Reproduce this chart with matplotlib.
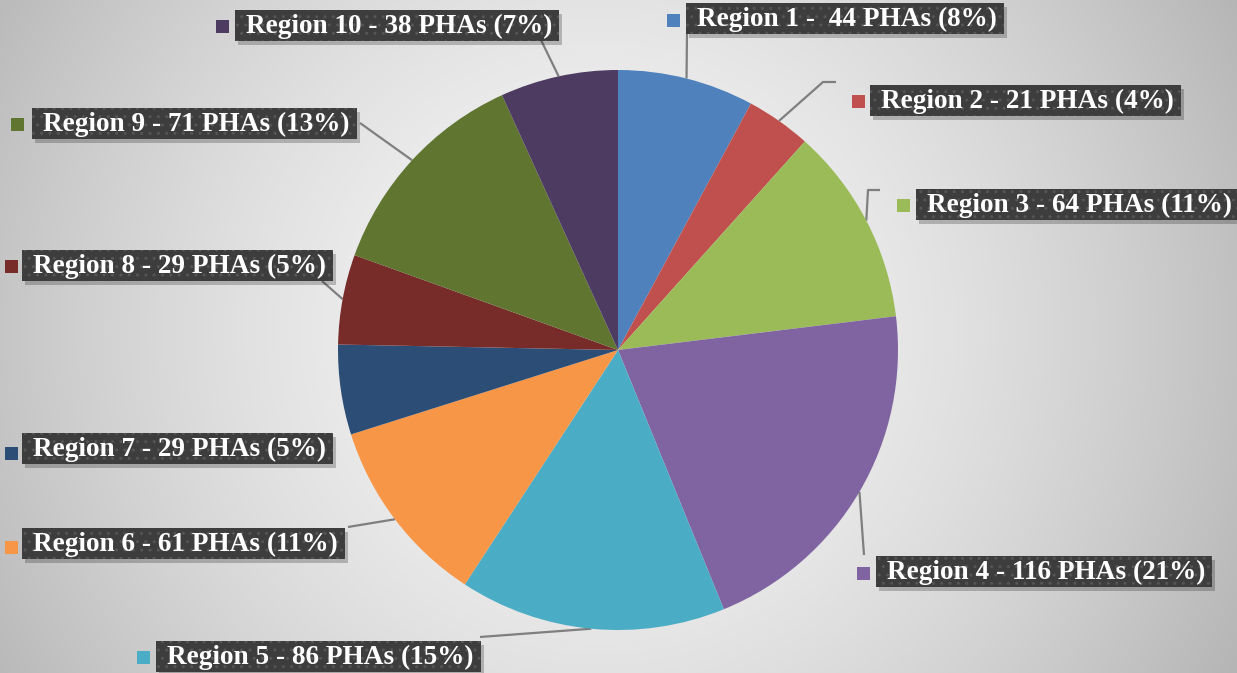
import numpy as np
import matplotlib
matplotlib.use('Agg')
import matplotlib.pyplot as plt
from matplotlib.patches import Rectangle

#### DATA ####
regions = ['Region 1', 'Region 2', 'Region 3', 'Region 4', 'Region 5',
           'Region 6', 'Region 7', 'Region 8', 'Region 9', 'Region 10']
phas = [44, 21, 64, 116, 86, 61, 29, 29, 71, 38]
percents = [8, 4, 11, 21, 15, 11, 5, 5, 13, 7]
colors = ['#4F81BD', '#C0504D', '#9BBB59', '#8064A2', '#4BACC6',
          '#F79646', '#2C4D75', '#772C2A', '#5F7530', '#4D3B62']

labels = []
for r, n, p in zip(regions, phas, percents):
    sep = ' -  ' if r == 'Region 1' else ' - '
    labels.append(f'{r}{sep}{n} PHAs ({p}%)')

W, H = 1237, 673
# label layout in pixels (from top-left): box left, box centre y, marker x, marker y
box_pos = [(686, 18, 673, 20), (870, 100, 858, 101), (916, 204, 903, 205),
           (876, 571, 863, 573), (156, 656, 143, 657), (22, 543, 11, 547),
           (22, 448, 11, 453), (22, 265, 11, 266), (32, 123, 17, 124),
           (235, 25, 222, 26)]
# leader line end points (pixels, from top-left), None = no leader
leader_end = [[(687, 33)], [(823, 82), (836, 82)], [(868, 190), (880, 190)],
              [(864, 555)], [(480, 637)], [(348, 527)], None,
              [(322, 281)], [(360, 123)], [(540, 38)]]

cx, cy, R = 618, 350, 280

fig = plt.figure(figsize=(W / 100, H / 100), dpi=100)
ax = fig.add_axes([0, 0, 1, 1])

# radial grey background
xx, yy = np.meshgrid(np.arange(W), np.arange(H))
d = np.sqrt((xx - 600) ** 2 + (yy - 330) ** 2) / np.sqrt(640 ** 2 + 345 ** 2)
v = (246 - 66 * np.clip(d, 0, 1.2) ** 1.6) / 255.0
ax.imshow(np.dstack([v, v, v]), extent=(0, W, 0, H), origin='upper', zorder=0, aspect='auto')

### PIE ###
wedges, _ = ax.pie(phas, colors=colors, startangle=90, counterclock=False,
                   center=(cx, H - cy), radius=R, frame=True,
                   wedgeprops=dict(linewidth=0))
for w in wedges:
    w.set_zorder(2)
ax.set_xlim(0, W)
ax.set_ylim(0, H)
ax.set_aspect('auto')
ax.axis('off')

# leader lines from the middle of each wedge's arc
total = sum(phas)
cum = 0
for i, n in enumerate(phas):
    mid = 90 - (cum + n / 2) / total * 360
    cum += n
    if leader_end[i] is None:
        continue
    sx = cx + R * np.cos(np.radians(mid))
    sy = cy - R * np.sin(np.radians(mid))
    pts = [(sx, sy)] + leader_end[i]
    ax.plot([p[0] for p in pts], [H - p[1] for p in pts], color='#7f7f7f', lw=1.6, zorder=1.5,
            solid_capstyle='butt')

### LABELS ###
texts = []
for lab, (bl, bc, mx, my) in zip(labels, box_pos):
    t = ax.text(bl + 11, H - (bc + 8), lab, ha='left', va='baseline', color='white',
                fontsize=19.6, fontweight='bold', family=['Liberation Serif', 'DejaVu Serif'],
                zorder=6)
    texts.append(t)

fig.canvas.draw()
inv = ax.transData.inverted()
for t, (bl, bc, mx, my), c in zip(texts, box_pos, colors):
    bb = t.get_window_extent()
    x1 = inv.transform((bb.x1, bb.y1))[0]
    br = x1 + 7
    top = H - (bc - 15.5)
    # shadow
    ax.add_patch(Rectangle((bl + 3, top - 31 - 4), br - bl, 31, facecolor='black',
                           alpha=0.22, linewidth=0, zorder=4))
    ax.add_patch(Rectangle((bl, top - 31), br - bl, 31, facecolor='#3d3d3d',
                           edgecolor='#555555', hatch='..', linewidth=0, zorder=5))
    ax.add_patch(Rectangle((mx - 6.5, H - my - 6.5), 13, 13, facecolor=c, linewidth=0, zorder=5))

fig.savefig('out.png', dpi=100)
